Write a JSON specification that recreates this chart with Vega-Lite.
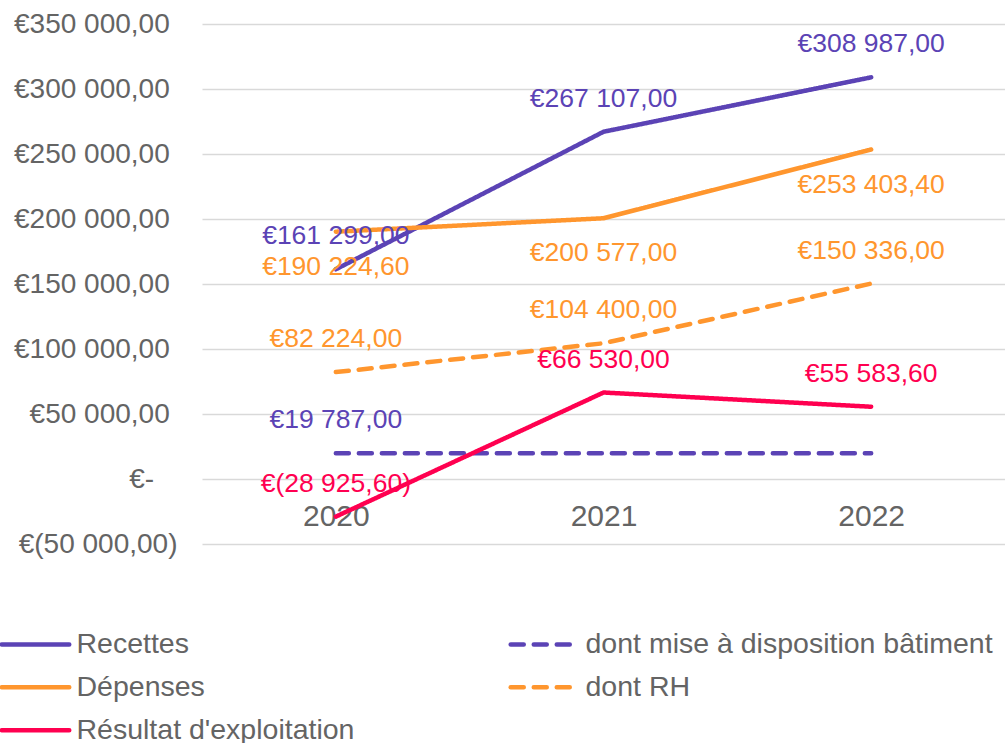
{
  "$schema": "https://vega.github.io/schema/vega-lite/v6.json",
  "autosize": {"type": "none"},
  "width": 803,
  "height": 520,
  "padding": {"left": 202, "top": 24, "right": 0, "bottom": 199},
  "background": "white",
  "config": {
    "view": {"stroke": null},
    "font": "Liberation Sans",
    "text": {"font": "Liberation Sans"}
  },
  "data": {
    "values": [
      {"year": "2020", "series": "Recettes", "value": 161299, "label": "€161 299,00"},
      {"year": "2021", "series": "Recettes", "value": 267107, "label": "€267 107,00"},
      {"year": "2022", "series": "Recettes", "value": 308987, "label": "€308 987,00"},
      {"year": "2020", "series": "dont mise à disposition bâtiment", "value": 19787, "label": "€19 787,00"},
      {"year": "2021", "series": "dont mise à disposition bâtiment", "value": 19787, "label": ""},
      {"year": "2022", "series": "dont mise à disposition bâtiment", "value": 19787, "label": ""},
      {"year": "2020", "series": "Dépenses", "value": 190224.6, "label": "€190 224,60"},
      {"year": "2021", "series": "Dépenses", "value": 200577, "label": "€200 577,00"},
      {"year": "2022", "series": "Dépenses", "value": 253403.4, "label": "€253 403,40"},
      {"year": "2020", "series": "dont RH", "value": 82224, "label": "€82 224,00"},
      {"year": "2021", "series": "dont RH", "value": 104400, "label": "€104 400,00"},
      {"year": "2022", "series": "dont RH", "value": 150336, "label": "€150 336,00"},
      {"year": "2020", "series": "Résultat d'exploitation", "value": -28925.6, "label": "€(28 925,60)"},
      {"year": "2021", "series": "Résultat d'exploitation", "value": 66530, "label": "€66 530,00"},
      {"year": "2022", "series": "Résultat d'exploitation", "value": 55583.6, "label": "€55 583,60"}
    ]
  },
  "encoding": {
    "x": {
      "field": "year", "type": "ordinal",
      "scale": {"type": "point", "padding": 0.5},
      "axis": {
        "title": null, "domain": false, "ticks": false, "grid": false,
        "labelFontSize": 30, "labelColor": "#646464", "labelPadding": -43, "labelAngle": 0
      }
    },
    "y": {
      "field": "value", "type": "quantitative",
      "scale": {"domain": [-50000, 350000], "nice": false, "zero": false},
      "axis": {
        "title": null, "domain": false, "ticks": false, "grid": true,
        "gridColor": "#D9D9D9", "gridWidth": 1.3,
        "values": [-50000, 0, 50000, 100000, 150000, 200000, 250000, 300000, 350000],
        "labelFontSize": 28, "labelColor": "#646464", "labelPadding": 25,
        "labelExpr": "datum.value == 0 ? '€-\u00a0\u00a0\u00a0\u200b' : (datum.value < 0 ? '€(' + replace(replace(format(-datum.value, ',.2f'), ',', ' '), '.', ',') + ')' : '€' + replace(replace(format(datum.value, ',.2f'), ',', ' '), '.', ',') + '\u00a0\u200b')"
      }
    },
    "color": {
      "field": "series", "type": "nominal",
      "scale": {
        "domain": ["Recettes", "dont mise à disposition bâtiment", "Dépenses", "dont RH", "Résultat d'exploitation"],
        "range": ["#5B43B5", "#5B43B5", "#FF962E", "#FF962E", "#FF0050"]
      },
      "legend": {
        "title": null, "orient": "none", "legendX": -202, "legendY": 606,
        "direction": "horizontal", "columns": 2, "gridAlign": "all",
        "columnPadding": 17, "rowPadding": 14, "padding": 0,
        "symbolType": "M-2.5,0H11", "symbolSize": 100, "symbolStrokeWidth": 4.5,
        "labelFontSize": 28.5, "labelColor": "#646464", "labelOffset": 48, "labelLimit": 600,
        "encode": {"symbols": {"update": {"strokeCap": {"value": "round"}}}}
      }
    }
  },
  "layer": [
    {
      "mark": {"type": "line", "strokeWidth": 4.5, "strokeCap": "round", "strokeJoin": "round"},
      "encoding": {
        "strokeDash": {
          "field": "series", "type": "nominal",
          "scale": {
            "domain": ["Recettes", "dont mise à disposition bâtiment", "Dépenses", "dont RH", "Résultat d'exploitation"],
            "range": [[1, 0], [13, 10], [1, 0], [13, 10], [1, 0]]
          },
          "legend": null
        }
      }
    },
    {
      "transform": [{"filter": "datum.series != 'Dépenses'"}],
      "mark": {"type": "text", "fontSize": 26.5, "baseline": "middle", "dy": -33},
      "encoding": {
        "text": {"field": "label"}
      }
    },
    {
      "transform": [{"filter": "datum.series == 'Dépenses'"}],
      "mark": {"type": "text", "fontSize": 26.5, "baseline": "middle", "dy": 35},
      "encoding": {
        "text": {"field": "label"}
      }
    }
  ]
}
